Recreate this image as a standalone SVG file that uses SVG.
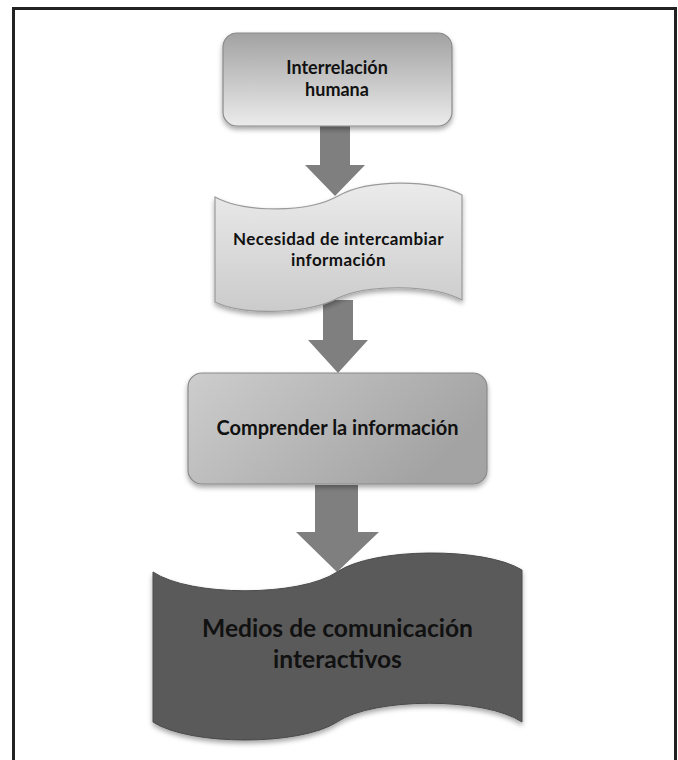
<svg xmlns="http://www.w3.org/2000/svg" width="678" height="760" viewBox="0 0 678 760">
<style>
.t{font-family:Lato,"Liberation Sans",Arial,sans-serif;fill:#111;text-anchor:middle}
.b{font-weight:bold}
.arrow{fill:#7f7f7f}
</style>
<defs>
<linearGradient id="g1" x1="0" y1="0" x2="0" y2="1">
<stop offset="0" stop-color="#a2a2a2"/>
<stop offset="1" stop-color="#ebebeb"/>
</linearGradient>
<linearGradient id="g2" x1="0" y1="0" x2="0" y2="1">
<stop offset="0" stop-color="#ebebeb"/>
<stop offset="1" stop-color="#cbcbcb"/>
</linearGradient>
<linearGradient id="g3" x1="0" y1="0" x2="1" y2="0.4">
<stop offset="0" stop-color="#cdcdcd"/>
<stop offset="1" stop-color="#a3a3a3"/>
</linearGradient>
<filter id="sh" x="-10%" y="-10%" width="120%" height="130%">
<feDropShadow dx="0" dy="3" stdDeviation="2.5" flood-color="#000" flood-opacity="0.35"/>
</filter>
</defs>
<rect x="13.5" y="8.5" width="662" height="760" fill="#fff" stroke="#222" stroke-width="3"/>
<g id="connectors">
<path class="arrow" d="M320,126 H350 V165 H365 L335,196 L305,165 H320 Z"/>
<path class="arrow" d="M323,300 H353 V340 H368 L338,373 L308,340 H323 Z"/>
<path class="arrow" d="M315,485 H358 V532 H379 L337,572 L296,532 H315 Z"/>
</g>
<g id="node1">
<rect x="223" y="33" width="229" height="93" rx="14" fill="url(#g1)" stroke="#8a8a8a" stroke-width="1.2" filter="url(#sh)"/>
<text class="t b" x="337" y="74" font-size="18">Interrelación</text>
<text class="t b" x="337" y="96" font-size="18">humana</text>
</g>
<g id="node2">
<path d="M215,197 C245,213 308,213 338,196 C368,179 432,179 462,195 V300 C432,284 368,284 338,298 C308,314 245,316 215,302 Z" fill="url(#g2)" stroke="#9a9a9a" stroke-width="1.2" filter="url(#sh)"/>
<text class="t b" x="338.5" y="245" font-size="17" letter-spacing="0.4">Necesidad de intercambiar</text>
<text class="t b" x="338.5" y="266" font-size="17" letter-spacing="0.4">información</text>
</g>
<g id="node3">
<rect x="188" y="373" width="299" height="111" rx="14" fill="url(#g3)" stroke="#8a8a8a" stroke-width="1.2" filter="url(#sh)"/>
<text class="t b" x="337.5" y="435" font-size="20">Comprender la información</text>
</g>
<g id="node4">
<path d="M153,572 C190,597 300,597 337,572 C374,547 485,547 522,570 V722 C485,697 374,697 337,722 C300,746 190,746 153,722 Z" fill="#5a5a5a" stroke="#4a4a4a" stroke-width="1" filter="url(#sh)"/>
<text class="t b" x="337.5" y="637" font-size="24.6">Medios de comunicación</text>
<text class="t b" x="337.5" y="668" font-size="24.6">interactivos</text>
</g>
</svg>
